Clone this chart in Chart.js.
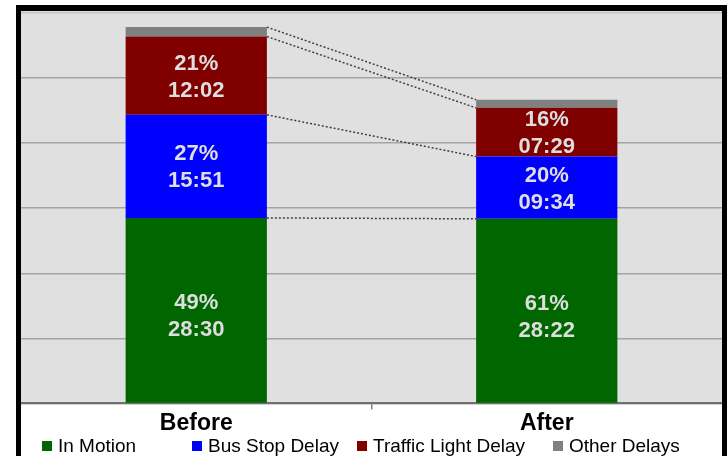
<!DOCTYPE html>
<html>
<head>
<meta charset="utf-8">
<script src="https://cdn.jsdelivr.net/npm/chart.js@4.4.1/dist/chart.umd.min.js"></script>
<style>
  body { margin: 0; background: #fff; overflow: hidden; width: 728px; height: 456px; }
  #frame {
    position: absolute; left: 16px; top: 5px; width: 701px; height: 460px;
    border: 5px solid #000; border-top-width: 6px; border-bottom: none;
  }
  #wrap { position: absolute; left: 0; top: 0; width: 701px; height: 445px; }
  #legend { position: absolute; left: 0; top: 436px; width: 728px; height: 20px;
    font-family: 'Liberation Sans', Arial, sans-serif; font-size: 19px; color: #000; }
  .item { position: absolute; top: 0; line-height: 20px; white-space: nowrap; }
  .box { display: inline-block; width: 10px; height: 10px; margin-right: 6px; vertical-align: 1px; }
</style>
</head>
<body>
<div id="frame"><div id="wrap"><canvas id="chart"></canvas></div></div>
<div id="legend"></div>
<script>
const FONT = "'Liberation Sans', Arial, sans-serif";

// minutes per trip component
const categories = ['Before', 'After'];
const inMotion   = [28.5, 28.37];
const busStop    = [15.85, 9.57];
const traffic    = [12.03, 7.48];
const other      = [1.45, 1.25];

const seriesNames  = ['In Motion', 'Bus Stop Delay', 'Traffic Light Delay', 'Other Delays'];
const seriesColors = ['#006600', '#0000ff', '#800000', '#808080'];

// labels shown inside segments (null = no label)
const pctLabels  = [['49%', '61%'], ['27%', '20%'], ['21%', '16%'], null];
const timeLabels = [['28:30', '28:22'], ['15:51', '09:34'], ['12:02', '07:29'], null];

const LEGEND_X = [42, 192, 357, 553];

const plotBg = {
  id: 'plotBg',
  beforeDraw(chart) {
    const { ctx, chartArea: a } = chart;
    ctx.save();
    ctx.fillStyle = '#e0e0e0';
    ctx.fillRect(a.left, 0, a.right - a.left, a.bottom);
    ctx.restore();
  }
};

// dotted series lines joining the segment tops
const seriesLines = {
  id: 'seriesLines',
  afterDatasetsDraw(chart) {
    const { ctx } = chart;
    ctx.save();
    ctx.strokeStyle = '#404040';
    ctx.lineWidth = 1.5;
    ctx.setLineDash([2, 2]);
    chart.data.datasets.forEach((ds, i) => {
      const bars = chart.getDatasetMeta(i).data;
      const b0 = bars[0], b1 = bars[1];
      ctx.beginPath();
      ctx.moveTo(b0.x + b0.width / 2, b0.y);
      ctx.lineTo(b1.x - b1.width / 2, b1.y);
      ctx.stroke();
    });
    ctx.restore();
  }
};

const segLabels = {
  id: 'segLabels',
  afterDatasetsDraw(chart) {
    const { ctx } = chart;
    ctx.save();
    ctx.fillStyle = '#dedede';
    ctx.font = 'bold 22px ' + FONT;
    ctx.textAlign = 'center';
    ctx.textBaseline = 'middle';
    chart.data.datasets.forEach((ds, i) => {
      if (!pctLabels[i]) return;
      chart.getDatasetMeta(i).data.forEach((bar, j) => {
        const cy = (bar.y + bar.base) / 2 + (i === 0 ? 6 : 1);
        ctx.fillText(pctLabels[i][j], bar.x, cy - 13);
        ctx.fillText(timeLabels[i][j], bar.x, cy + 14);
      });
    });
    ctx.restore();
  }
};

const values = [inMotion, busStop, traffic, other];

new Chart(document.getElementById('chart'), {
  type: 'bar',
  data: {
    labels: categories,
    datasets: values.map((v, i) => ({
      label: seriesNames[i],
      data: v,
      backgroundColor: seriesColors[i],
      borderWidth: 0,
      barPercentage: 0.403,
      categoryPercentage: 1,
    })),
  },
  options: {
    responsive: true,
    maintainAspectRatio: false,
    animation: false,
    layout: { padding: { top: 2, bottom: 19, left: 0, right: 0 } },
    plugins: { legend: { display: false }, tooltip: { enabled: false } },
    scales: {
      x: {
        stacked: true,
        grid: {
          drawOnChartArea: false, drawTicks: true, tickLength: 6, lineWidth: 1.5,
          color: c => (c.index === 1 ? '#808080' : 'rgba(0,0,0,0)'),
        },
        border: { color: '#707070', width: 2 },
        ticks: { color: '#000', padding: 0, font: { family: FONT, size: 23, weight: 'bold' } },
      },
      y: {
        stacked: true,
        min: 0, max: 60,
        ticks: { display: false, stepSize: 10 },
        grid: {
          lineWidth: 1.5, drawTicks: false,
          color: c => (c.tick && c.tick.value === 60 ? '#c4c4c4' : '#a4a4a4'),
        },
        border: { display: false },
      },
    },
  },
  plugins: [plotBg, seriesLines, segLabels],
});

// legend built from the series names and colours
const legend = document.getElementById('legend');
seriesNames.forEach((name, i) => {
  const item = document.createElement('div');
  item.className = 'item';
  item.style.left = LEGEND_X[i] + 'px';
  item.innerHTML = `<span class="box" style="background:${seriesColors[i]}"></span>${name}`;
  legend.appendChild(item);
});
</script>
</body>
</html>
